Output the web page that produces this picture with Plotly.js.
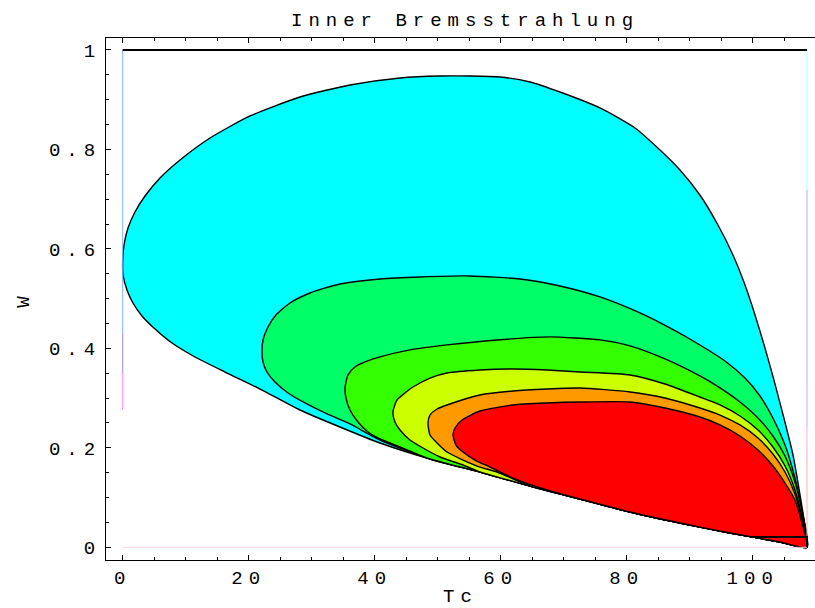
<!DOCTYPE html>
<html>
<head>
<meta charset="utf-8">
<script src="https://cdn.plot.ly/plotly-3.0.1.min.js"></script>
<style>
  html, body { margin: 0; padding: 0; background: #fff; }
  #chart { width: 815px; height: 608px; }
  #chart svg text { letter-spacing: 6px; }
</style>
</head>
<body>
<div id="chart"></div>
<script>
// ---- shared lower envelope of all contour bands (Tc, W) ----
const envX = [28.14, 34.49, 40.84, 48.78, 56.71, 64.65, 72.59, 80.52, 88.46, 96.4, 104.33, 108.62];
const envY = [0.2761, 0.2419, 0.2097, 0.1776, 0.1514, 0.1233, 0.0971, 0.0710, 0.0489, 0.0288, 0.0107, 0];

// ---- band 1 (cyan) ----
const cyanUpperX = [0, 0.21, 0.84, 1.95, 3.54, 5.92, 9.1, 13.86, 20.21, 28.14, 36.08, 44.02, 50.37, 55.13, 59.89, 64.65, 69.41, 75.76, 81.32, 85.29, 88.46, 91.62, 94.49, 96.87, 98.78, 100.37, 101.95, 103.37, 104.95, 106.4, 107.51, 108.14, 108.62];
const cyanUpperY = [0.5737, 0.6079, 0.6421, 0.6743, 0.7064, 0.7426, 0.7788, 0.8230, 0.8673, 0.9055, 0.9296, 0.9437, 0.9477, 0.9477, 0.9457, 0.9357, 0.9155, 0.8834, 0.8432, 0.7989, 0.7587, 0.7084, 0.6481, 0.5878, 0.5275, 0.4672, 0.4008, 0.3364, 0.2600, 0.1856, 0.1056, 0.0549, 0];
const cyanLowerX = [0.05, 0.68, 1.63, 3.06, 5.13, 7.83, 11.48, 16.24, 21.8];
const cyanLowerY = [0.5476, 0.5175, 0.4913, 0.4652, 0.4390, 0.4108, 0.3827, 0.3525, 0.3183];

// ---- band 2 (spring green) ----
const springUpperX = [22.11, 22.27, 23.06, 24.33, 26.56, 29.73, 34.49, 40.84, 47.19, 55.13, 63.06, 69.41, 75.76, 82.11, 86.86, 91.62, 95.6, 98.78, 101.16, 103.21, 105.13, 106.71, 107.83, 108.62];
const springUpperY = [0.3927, 0.4169, 0.4430, 0.4672, 0.4913, 0.5114, 0.5295, 0.5396, 0.5436, 0.5456, 0.5396, 0.5255, 0.5034, 0.4712, 0.4410, 0.4068, 0.3747, 0.3404, 0.3043, 0.2600, 0.2057, 0.1394, 0.0751, 0];
const springLowerX = [22.27, 22.9, 24.17, 26.24, 28.94, 32.11, 36.08, 40.84];
const springLowerY = [0.3727, 0.3525, 0.3324, 0.3103, 0.2902, 0.2701, 0.2480, 0.2158];

// ---- band 3 (green) ----
const greenUpperX = [35.29, 35.76, 36.87, 38.46, 40.84, 45.6, 51.48, 59.4, 67.83, 75.76, 80.52, 86.08, 91.62, 94.81, 97.98, 100.84, 103.21, 105.13, 106.71, 107.83, 108.62];
const greenUpperY = [0.3205, 0.3467, 0.3627, 0.3728, 0.3829, 0.3969, 0.4070, 0.4170, 0.4231, 0.4170, 0.4050, 0.3788, 0.3446, 0.3206, 0.2922, 0.2600, 0.2238, 0.1836, 0.1314, 0.0710, 0];
const greenLowerX = [35.44, 36.08, 37.35, 38.94, 40.84, 44.02];
const greenLowerY = [0.3002, 0.2761, 0.2520, 0.2319, 0.2178, 0.2017];

// ---- band 4 (yellow-green) ----
const yellowUpperX = [42.9, 43.54, 44.81, 46.08, 48.78, 51.48, 56.71, 61.95, 67.35, 72.59, 80.52, 86.08, 91.62, 94.81, 97.98, 100.84, 103.21, 105.13, 106.71, 107.83, 108.62];
const yellowUpperY = [0.2721, 0.2962, 0.3103, 0.3223, 0.3404, 0.3505, 0.3565, 0.3585, 0.3565, 0.3525, 0.3465, 0.3284, 0.3022, 0.2862, 0.2640, 0.2359, 0.2017, 0.1635, 0.1153, 0.0610, 0];
const yellowLowerX = [43.22, 44.02, 45.6, 47.67, 50.37, 54.02];
const yellowLowerY = [0.2520, 0.2359, 0.2158, 0.1997, 0.1816, 0.1655];

// ---- band 5 (orange) ----
const orangeUpperX = [48.46, 48.78, 49.9, 51.48, 56.71, 61.95, 67.35, 72.59, 80.52, 86.08, 91.62, 94.81, 97.98, 100.84, 103.21, 105.13, 106.71, 107.83, 108.62];
const orangeUpperY = [0.2500, 0.2660, 0.2781, 0.2862, 0.3063, 0.3143, 0.3183, 0.3203, 0.3123, 0.3002, 0.2801, 0.2660, 0.2460, 0.2198, 0.1876, 0.1514, 0.1072, 0.0549, 0];
const orangeLowerX = [48.78, 49.9, 51.48, 54.02, 56.71, 59.41];
const orangeLowerY = [0.2258, 0.2097, 0.1916, 0.1755, 0.1614, 0.1514];

// ---- band 6 (red) ----
const redUpperX = [52.43, 52.75, 53.86, 56.71, 61.95, 67.35, 72.59, 80.52, 86.08, 91.62, 94.81, 97.98, 100.84, 103.21, 105.13, 106.71, 107.83, 108.62];
const redUpperY = [0.2258, 0.2399, 0.2560, 0.2741, 0.2862, 0.2902, 0.2922, 0.2922, 0.2801, 0.2620, 0.2460, 0.2238, 0.1957, 0.1635, 0.1293, 0.0951, 0.0489, 0];
const redLowerX = [52.9, 54.02, 55.92, 58.3, 61.95, 67.35];
const redLowerY = [0.2057, 0.1916, 0.1755, 0.1614, 0.1393, 0.1153];

// where each band's lower edge joins the envelope (index into envX)
const bandNames  = ['cyan', 'spring', 'green', 'yellow', 'orange', 'red'];
const bandColors = ['#00ffff', '#00ff66', '#33ff00', '#ccff00', '#ff9900', '#ff0000'];
const bandJoin   = [0, 3, 3, 4, 5, 6];

// ---- domain edge lines ----
const domainXmin = 0, domainXmax = 108.62, domainYtop = 1;
const leftEdgeY   = [1, 0.43, 0.35, 0.276];
const leftEdgeC   = ['#7fb2ff', '#9f85ff', '#ff85ff'];
const rightEdgeY  = [1, 0.7185, 0.3265, 0.2419, 0.2017, 0.1755, 0.0207];
const rightEdgeC  = ['#a6ffff', '#b0b0ff', '#d0a8ff', '#ffa8ff', '#ffa8d8', '#ffb0b0'];
const stubX = [99.57, 108.62, 108.62];
const stubY = [0.0207, 0.0207, 0];

// ---- axes ----
const xTicks = [0, 20, 40, 60, 80, 100];
const yTicks = [0, 0.2, 0.4, 0.6, 0.8, 1];

const bands = {
  cyan: [cyanUpperX, cyanUpperY, cyanLowerX, cyanLowerY],
  spring: [springUpperX, springUpperY, springLowerX, springLowerY],
  green: [greenUpperX, greenUpperY, greenLowerX, greenLowerY],
  yellow: [yellowUpperX, yellowUpperY, yellowLowerX, yellowLowerY],
  orange: [orangeUpperX, orangeUpperY, orangeLowerX, orangeLowerY],
  red: [redUpperX, redUpperY, redLowerX, redLowerY]
};

const traces = [];
bandNames.forEach((name, i) => {
  const [ux, uy, lx, ly] = bands[name];
  const xs = [], ys = [];
  for (let k = envX.length - 1; k >= bandJoin[i]; k--) { xs.push(envX[k]); ys.push(envY[k]); }
  for (let k = lx.length - 1; k >= 0; k--) { xs.push(lx[k]); ys.push(ly[k]); }
  for (let k = 0; k < ux.length; k++) { xs.push(ux[k]); ys.push(uy[k]); }
  traces.push({
    type: 'scatter', mode: 'lines', x: xs, y: ys, fill: 'toself',
    fillcolor: bandColors[i], line: { color: '#000', width: 1.4, shape: 'spline', smoothing: 0.6 },
    hoverinfo: 'skip', showlegend: false
  });
});

// domain edges
traces.push({ type: 'scatter', mode: 'lines', x: [domainXmin, domainXmax], y: [0, 0],
  line: { color: '#ffd6dc', width: 1 }, showlegend: false, hoverinfo: 'skip' });
for (let k = 0; k < leftEdgeC.length; k++) {
  traces.push({ type: 'scatter', mode: 'lines', x: [domainXmin, domainXmin], y: [leftEdgeY[k], leftEdgeY[k + 1]],
    line: { color: leftEdgeC[k], width: 1 }, showlegend: false, hoverinfo: 'skip' });
}
for (let k = 0; k < rightEdgeC.length; k++) {
  traces.push({ type: 'scatter', mode: 'lines', x: [domainXmax, domainXmax], y: [rightEdgeY[k], rightEdgeY[k + 1]],
    line: { color: rightEdgeC[k], width: 1 }, showlegend: false, hoverinfo: 'skip' });
}
traces.push({ type: 'scatter', mode: 'lines', x: [domainXmin, domainXmax], y: [domainYtop, domainYtop],
  line: { color: '#000', width: 2 }, showlegend: false, hoverinfo: 'skip' });
traces.push({ type: 'scatter', mode: 'lines', x: stubX, y: stubY,
  line: { color: '#000', width: 2 }, showlegend: false, hoverinfo: 'skip' });

const font = { family: 'Liberation Mono, DejaVu Sans Mono, monospace', size: 19, color: '#000' };

const layout = {
  width: 815, height: 608,
  margin: { l: 106, r: 0, t: 38, b: 48 },
  paper_bgcolor: '#fff', plot_bgcolor: '#fff',
  showlegend: false,
  title: { text: 'Inner Bremsstrahlung', font: font, xref: 'container', x: 0.5706, xanchor: 'center',
           yref: 'container', y: 0.968, yanchor: 'middle' },
  xaxis: {
    range: [-2.65, 109.89], tickvals: xTicks, ticks: 'inside', ticklen: 5, tickwidth: 1, tickcolor: '#000',
    showline: true, linecolor: '#000', linewidth: 1, mirror: 'ticks', showgrid: false, zeroline: false,
    minor: { dtick: 5, tick0: 0, ticks: 'inside', ticklen: 3, tickcolor: '#000', showgrid: false },
    tickfont: font, title: { text: 'Tc', font: font }
  },
  yaxis: {
    range: [-0.0255, 1.0241], tickvals: yTicks, ticktext: ['0', '0.2', '0.4', '0.6', '0.8', '1'],
    ticks: 'inside', ticklen: 5, tickwidth: 1, tickcolor: '#000',
    showline: true, linecolor: '#000', linewidth: 1, showgrid: false, zeroline: false,
    minor: { dtick: 0.05, tick0: 0, ticks: 'inside', ticklen: 3, tickcolor: '#000', showgrid: false },
    tickfont: font, automargin: true, title: { text: 'W', font: font, standoff: 32 }
  }
};

Plotly.newPlot('chart', traces, layout, { staticPlot: true, displayModeBar: false });
</script>
</body>
</html>
